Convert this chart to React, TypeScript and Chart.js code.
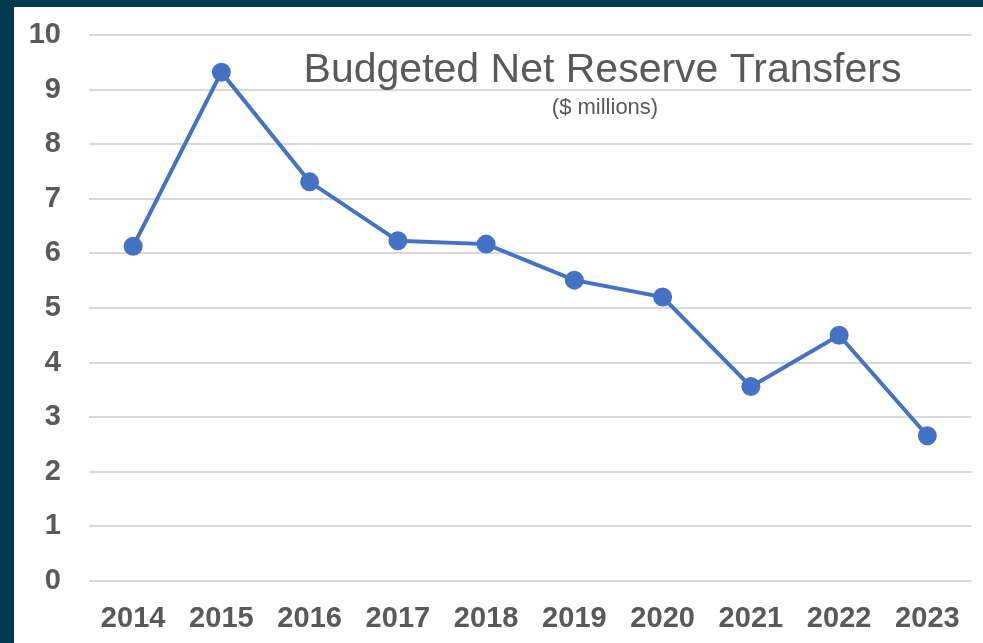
import React, { useEffect, useRef } from "react";
import { Chart, registerables } from "chart.js";

Chart.register(...registerables);

const years = ["2014", "2015", "2016", "2017", "2018", "2019", "2020", "2021", "2022", "2023"];
const transfers = [6.13, 9.32, 7.31, 6.23, 6.17, 5.51, 5.2, 3.56, 4.5, 2.66];
const titleText = "Budgeted Net Reserve Transfers";
const subtitleText = "($ millions)";

const titlePlugin = {
  id: "innerTitle",
  afterDatasetsDraw(chart: any) {
    const ctx = chart.ctx;
    ctx.save();
    ctx.fillStyle = "#595959";
    ctx.textAlign = "center";
    ctx.textBaseline = "alphabetic";
    ctx.font = "41px 'Liberation Sans', Arial, sans-serif";
    ctx.fillText(titleText, 588.5, 75);
    ctx.font = "22px 'Liberation Sans', Arial, sans-serif";
    ctx.fillText(subtitleText, 591, 107);
    ctx.restore();
  },
};

export default function App() {
  const ref = useRef<HTMLCanvasElement>(null);
  useEffect(() => {
    if (!ref.current) return;
    const chart = new Chart(ref.current, {
      type: "line",
      data: {
        labels: years,
        datasets: [
          {
            data: transfers,
            borderColor: "#4472c4",
            backgroundColor: "#4472c4",
            borderWidth: 4,
            pointRadius: 7.5,
            pointBackgroundColor: "#4472c4",
            pointBorderColor: "#4472c4",
            tension: 0,
          },
        ],
      },
      options: {
        animation: false,
        responsive: false,
        maintainAspectRatio: false,
        layout: { padding: { top: 28, right: 10, bottom: 0, left: 0 } },
        plugins: { legend: { display: false }, tooltip: { enabled: false }, title: { display: false } },
        scales: {
          x: {
            offset: true,
            grid: { display: false, drawTicks: false },
            border: { display: false },
            ticks: {
              color: "#595959",
              font: { family: "'Liberation Sans', Arial, sans-serif", size: 29, weight: "bold" },
              padding: 21,
              maxRotation: 0,
              autoSkip: false,
            },
            afterFit(scale: any) {
              scale.height = 62;
              scale.paddingLeft = 0;
              scale.paddingRight = 0;
            },
          },
          y: {
            min: 0,
            max: 10,
            ticks: {
              stepSize: 1,
              color: "#595959",
              font: { family: "'Liberation Sans', Arial, sans-serif", size: 29, weight: "bold" },
              padding: 28,
            },
            grid: { color: "#d9d9d9", lineWidth: 2, drawTicks: false },
            border: { display: false },
            afterFit(scale: any) {
              scale.width = 75;
              scale.paddingTop = 0;
              scale.paddingBottom = 0;
            },
          },
        },
      },
      plugins: [titlePlugin],
    });
    return () => chart.destroy();
  }, []);

  return (
    <div style={{ position: "fixed", left: 0, top: 0, width: 983, height: 643, background: "#003a4f" }}>
      <div style={{ position: "absolute", left: 14, top: 7, width: 969, height: 636, background: "#ffffff" }}>
        <canvas ref={ref} width={969} height={636} style={{ display: "block" }} />
      </div>
    </div>
  );
}
